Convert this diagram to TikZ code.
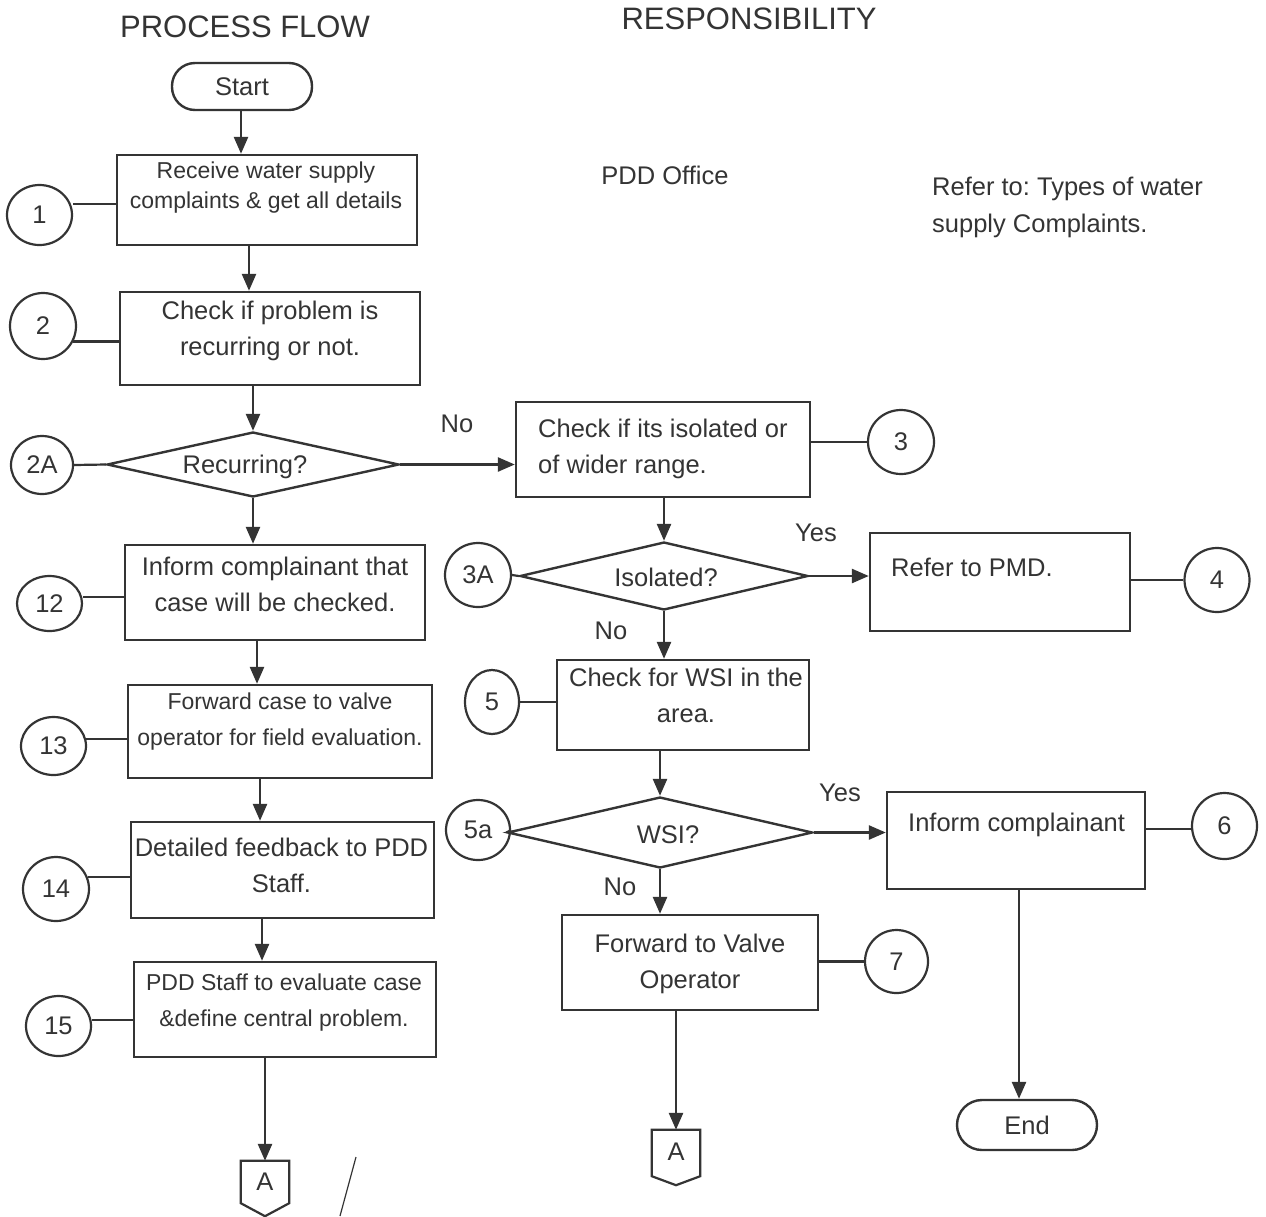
\documentclass[tikz,border=0pt]{standalone}
\usepackage{fontspec}
\setmainfont{Liberation Sans}
\usetikzlibrary{shapes.geometric,arrows.meta,calc}
\definecolor{ink}{HTML}{343434}
\newcommand\fsA{\fontsize{25.5}{36}\selectfont}
\newcommand\fsB{\fontsize{23}{36}\selectfont}
\newcommand\fsC{\fontsize{23}{30}\selectfont}
\newcommand\fsH{\fontsize{31}{36}\selectfont}
\frenchspacing
\begin{document}
\begin{tikzpicture}[x=1pt,y=-1pt,
  every node/.style={text=ink},
  frame/.style={draw=ink,line width=2.4pt,rectangle,inner sep=0pt},
  term/.style={draw=ink,line width=2.4pt,rectangle,rounded corners=23pt,inner sep=0pt,font=\fsA},
  dia/.style={draw=ink,line width=2.4pt,diamond,inner sep=0pt,font=\fsA},
  num/.style={draw=ink,line width=2.2pt,ellipse,inner sep=0pt,font=\fsA},
  tx/.style={align=center,inner sep=0pt,font=\fsA},
  txl/.style={align=left,inner sep=0pt,font=\fsA,anchor=west},
  lbl/.style={inner sep=0pt,font=\fsA},
  arr/.style={draw=ink,line width=2.6pt,-{Triangle[length=17pt,width=14pt]}},
  ln/.style={draw=ink,line width=2.2pt}
]
\useasboundingbox (0,0) rectangle (1266,1216);
\fill[white] (0,0) rectangle (1266,1216);

% headers
\node[lbl,font=\fsH] (hpf) at (245,27) {PROCESS FLOW};
\node[lbl,font=\fsH] (hres) at (749,19) {RESPONSIBILITY};
\node[lbl] (pdd) at (665,175) {PDD Office};
\node[txl,font=\fontsize{25.5}{37}\selectfont] (refer) at (932,207) {Refer to: Types of water\\supply Complaints.};

% start
\node[term,minimum width=140,minimum height=47] (S) at (242,86.5) {Start};

% left column boxes
\node[frame,minimum width=300,minimum height=90] (b1) at (267,200) {};
\node[tx,font=\fsC] (b1t) at (266,188) {Receive water supply\\complaints \& get all details};
\node[frame,minimum width=300,minimum height=93] (b2) at (270,338.5) {};
\node[tx] (b2t) at (270,330.5) {Check if problem is\\recurring or not.};
\node[dia,minimum width=292,minimum height=65,aspect=4.5] (d2) at (253,464.5) {};
\node[lbl] (d2t) at (245,467) {Recurring?};
\node[frame,minimum width=300,minimum height=95] (b12) at (275,592.5) {};
\node[tx] (b12t) at (275,584.5) {Inform complainant that\\case will be checked.};
\node[frame,minimum width=304,minimum height=93] (b13) at (280,731.5) {};
\node[tx,font=\fsB] (b13t) at (280,722) {Forward case to valve\\operator for field evaluation.};
\node[frame,minimum width=303,minimum height=96] (b14) at (282.5,870) {};
\node[tx] (b14t) at (281.5,865.5) {Detailed feedback to PDD\\Staff.};
\node[frame,minimum width=302,minimum height=95] (b15) at (285,1009.5) {};
\node[tx,font=\fsB] (b15t) at (284,1003) {PDD Staff to evaluate case\\\&define central problem.};
\node[minimum width=48,minimum height=42,inner sep=0pt] (A1) at (265,1182) {};
\node[lbl] (A1t) at (265,1182) {A};

% right column
\node[frame,minimum width=294,minimum height=95] (b3) at (663,449.5) {};
\node[txl] (b3t) at (538,448.5) {Check if its isolated or\\of wider range.};
\node[dia,minimum width=288,minimum height=68,aspect=4.2] (d3) at (664,576) {};
\node[lbl] (d3t) at (666,577) {Isolated?};
\node[frame,minimum width=260,minimum height=98] (b4) at (1000,582) {};
\node[txl] (b4t) at (891,567) {Refer to PMD.};
\node[frame,minimum width=252,minimum height=90] (b5) at (683,705) {};
\node[tx] (b5t) at (686,695.5) {Check for WSI in the\\area.};
\node[dia,minimum width=305,minimum height=71,aspect=4.3] (d5) at (660,832.5) {};
\node[lbl] (d5t) at (668,835) {WSI?};
\node[frame,minimum width=258,minimum height=97] (b6) at (1016,840.5) {};
\node[txl] (b6t) at (908,825) {Inform complainant};
\node[frame,minimum width=256,minimum height=95] (b7) at (690,962.5) {};
\node[tx] (b7t) at (690,963.5) {Forward to Valve\\Operator};
\node[minimum width=48,minimum height=47,inner sep=0pt] (A2) at (676,1153.5) {};
\node[lbl] (A2t) at (676,1152) {A};
\node[term,minimum width=140,minimum height=50,rounded corners=25pt] (E) at (1027,1125) {End};

% numbered circles
\node[num,minimum width=65,minimum height=60] (c1) at (39.5,215) {1};
\node[num,minimum width=66,minimum height=66] (c2) at (43,326) {2};
\node[num,minimum width=62,minimum height=58] (c2a) at (42,465) {2A};
\node[num,minimum width=65,minimum height=55] (c12) at (49.5,603.5) {12};
\node[num,minimum width=65,minimum height=58] (c13) at (53.5,746) {13};
\node[num,minimum width=66,minimum height=64] (c14) at (56,889) {14};
\node[num,minimum width=65,minimum height=60] (c15) at (58.5,1026) {15};
\node[num,minimum width=66,minimum height=64] (c3) at (901,442) {3};
\node[num,minimum width=66,minimum height=64] (c3a) at (478,575) {3A};
\node[num,minimum width=65,minimum height=64] (c4) at (1217,580) {4};
\node[num,minimum width=54,minimum height=64] (c5) at (492,702) {5};
\node[num,minimum width=64,minimum height=60] (c5a) at (478,830) {5a};
\node[num,minimum width=65,minimum height=66] (c6) at (1224.5,826) {6};
\node[num,minimum width=63,minimum height=63] (c7) at (896.5,961.5) {7};

% off-page connector outlines
\draw[ln] (A1.north west) -- (A1.north east) -- (A1.south east) -- ($(A1.south)+(0,13)$) -- (A1.south west) -- cycle;
\draw[ln] (A2.north west) -- (A2.north east) -- ($(A2.south east)+(0,-1)$) -- ($(A2.south)+(0,8)$) -- ($(A2.south west)+(0,-1)$) -- cycle;

% yes/no labels
\node[lbl] (no1) at (457,424) {No};
\node[lbl] (yes1) at (816,533) {Yes};
\node[lbl] (no2) at (611,631) {No};
\node[lbl] (yes2) at (840,793) {Yes};
\node[lbl] (no3) at (620,887) {No};

% main flow arrows
\draw[arr] ([xshift=-1pt]S.south) -- ([xshift=-1pt]S.south |- b1.north);
\coordinate (x2) at (249,0);
\draw[arr] (b1.south -| x2) -- (b2.north -| x2);
\draw[arr] (b2.south -| d2.north) -- (d2.north);
\draw[arr] (d2.south) -- (b12.north -| d2.south);
\coordinate (x13) at (257,0);
\draw[arr] (b12.south -| x13) -- (b13.north -| x13);
\coordinate (x14) at (260,0);
\draw[arr] (b13.south -| x14) -- (b14.north -| x14);
\coordinate (x15) at (262,0);
\draw[arr] (b14.south -| x15) -- (b15.north -| x15);
\draw[arr] (b15.south -| A1.north) -- (A1.north);

\draw[arr] (d2.east) -- (d2.east -| b3.west);
\draw[arr] (b3.south -| d3.north) -- (d3.north);
\draw[arr] (d3.east) -- (d3.east -| b4.west);
\draw[arr] (d3.south) -- (b5.north -| d3.south);
\draw[arr] (b5.south -| d5.north) -- (d5.north);
\draw[arr] (d5.east) -- (d5.east -| b6.west);
\draw[arr] (d5.south) -- (b7.north -| d5.south);
\draw[arr] (b7.south -| A2.north) -- (A2.north);
\coordinate (xe) at (1019,0);
\draw[arr] (b6.south -| xe) -- (E.north -| xe);

% circle connectors
\draw[ln] (c1.east |- 0,204) -- (b1.west |- 0,204);
\draw[ln] (c2.-27) -- (c2.-27 -| b2.west);
\draw[ln] (c2a.east) -- (d2.west);
\draw[ln] (c12.east |- 0,597) -- (b12.west |- 0,597);
\draw[ln] (c13.12) -- (c13.12 -| b13.west);
\draw[ln] (c14.20) -- (c14.20 -| b14.west);
\draw[ln] (c15.10) -- (c15.10 -| b15.west);
\draw[ln] (b3.east |- c3.west) -- (c3.west);
\draw[ln] (c3a.east) -- (d3.west);
\draw[ln] (b4.east |- c4.west) -- (c4.west);
\draw[ln] (c5.east) -- (c5.east -| b5.west);
\draw[ln] (c5a.east) -- (d5.west);
\draw[ln] (b6.east |- 0,829) -- (c6.west |- 0,829);
\draw[ln] (b7.east |- c7.west) -- (c7.west);

% stray pen stroke
\coordinate (s1) at (356,1157);
\coordinate (s2) at (340,1216);
\draw[draw=ink,line width=1.2pt] (s1) -- (s2);
\end{tikzpicture}
\end{document}
